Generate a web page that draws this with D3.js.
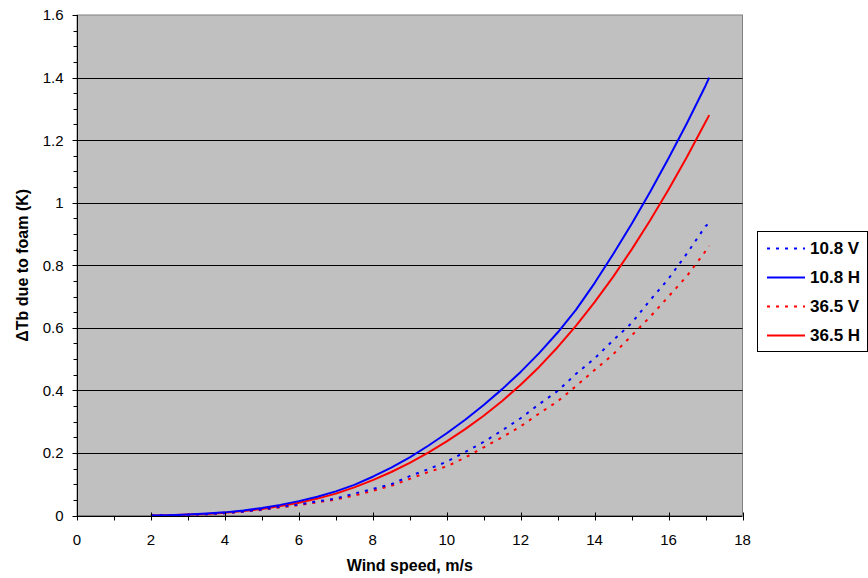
<!DOCTYPE html>
<html>
<head>
<meta charset="utf-8">
<script src="https://cdn.jsdelivr.net/npm/d3@7/dist/d3.min.js"></script>
<style>
  html, body { margin: 0; padding: 0; background: #fff; }
  svg { display: block; }
  text { font-family: Arial, "Liberation Sans", sans-serif; }
</style>
</head>
<body>
<svg id="chart" width="868" height="578"></svg>
<script>
// ---- Data ----
const windSpeed = [2, 2.5, 3, 3.5, 4, 4.5, 5, 5.5, 6, 6.5, 7, 7.5, 8, 8.5, 9, 9.5, 10, 10.5, 11, 11.5, 12, 12.5, 13, 13.5, 14, 14.5, 15, 15.5, 16, 16.5, 17, 17.1];
const tb108V = [0, 0.001, 0.002, 0.004, 0.008, 0.013, 0.019, 0.028, 0.035, 0.045, 0.054, 0.070, 0.085, 0.100, 0.126, 0.148, 0.172, 0.203, 0.235, 0.272, 0.311, 0.356, 0.398, 0.453, 0.502, 0.560, 0.615, 0.688, 0.757, 0.838, 0.925, 0.935];
const tb108H = [0, 0.001, 0.003, 0.006, 0.010, 0.016, 0.024, 0.034, 0.046, 0.060, 0.077, 0.098, 0.124, 0.153, 0.186, 0.223, 0.263, 0.306, 0.353, 0.404, 0.459, 0.519, 0.585, 0.658, 0.743, 0.835, 0.932, 1.034, 1.142, 1.255, 1.374, 1.400];
const tb365V = [0, 0.001, 0.002, 0.004, 0.007, 0.012, 0.018, 0.026, 0.033, 0.042, 0.051, 0.064, 0.079, 0.095, 0.117, 0.139, 0.157, 0.185, 0.218, 0.250, 0.285, 0.326, 0.365, 0.414, 0.465, 0.515, 0.575, 0.635, 0.700, 0.766, 0.845, 0.862];
const tb365H = [0, 0.001, 0.003, 0.005, 0.009, 0.014, 0.021, 0.030, 0.041, 0.054, 0.070, 0.090, 0.113, 0.139, 0.168, 0.201, 0.237, 0.276, 0.319, 0.366, 0.418, 0.475, 0.538, 0.607, 0.682, 0.763, 0.850, 0.943, 1.042, 1.147, 1.258, 1.280];

const seriesNames = ["10.8 V", "10.8 H", "36.5 V", "36.5 H"];
const seriesColors = ["#0000FF", "#0000FF", "#FF0000", "#FF0000"];
const seriesDashed = [true, false, true, false];
const seriesValues = [tb108V, tb108H, tb365V, tb365H];

const xTicks = [0, 2, 4, 6, 8, 10, 12, 14, 16, 18];
const yTicks = [0, 0.2, 0.4, 0.6, 0.8, 1.0, 1.2, 1.4, 1.6];
const xLabel = "Wind speed, m/s";
const yLabel = "\u0394Tb due to foam (K)";

// ---- Layout ----
const L = 77, R = 742.5, T = 15, B = 515.5;
const svg = d3.select("#chart");
const x = d3.scaleLinear().domain([0, 18]).range([L, R]);
const y = d3.scaleLinear().domain([0, 1.6]).range([B, T]);

// plot background
svg.append("rect").attr("x", L).attr("y", T).attr("width", R - L).attr("height", B - T)
  .attr("fill", "#C0C0C0").attr("stroke", "#808080").attr("stroke-width", 1);

// gridlines
svg.append("g").selectAll("line").data(yTicks.filter(v => v > 0 && v < 1.6)).join("line")
  .attr("x1", L).attr("x2", R)
  .attr("y1", d => Math.round(y(d)) + 0.5).attr("y2", d => Math.round(y(d)) + 0.5)
  .attr("stroke", "#000").attr("stroke-width", 1);

// series
const line = d3.line().x((d, i) => x(windSpeed[i])).y(d => y(d));
const order = [3, 2, 1, 0];
order.forEach(k => {
  svg.append("path").datum(seriesValues[k])
    .attr("d", line)
    .attr("fill", "none")
    .attr("stroke", seriesColors[k])
    .attr("stroke-width", 2)
    .attr("stroke-dasharray", seriesDashed[k] ? "3,6" : null)
    .attr("stroke-linejoin", "round");
});

// Axes
const xAxisG = svg.append("g").attr("transform", `translate(0,${Math.round(B) + 0.5})`);
xAxisG.append("line").attr("x1", L).attr("x2", R).attr("stroke", "#000");
xAxisG.selectAll("line.minor").data(d3.range(1, 18, 2)).join("line").attr("class", "minor")
  .attr("x1", d => Math.round(x(d)) + 0.5).attr("x2", d => Math.round(x(d)) + 0.5)
  .attr("y1", 0).attr("y2", 4).attr("stroke", "#000");
xAxisG.selectAll("line.major").data(xTicks).join("line").attr("class", "major")
  .attr("x1", d => Math.round(x(d)) + 0.5).attr("x2", d => Math.round(x(d)) + 0.5)
  .attr("y1", -4).attr("y2", 4).attr("stroke", "#000");
xAxisG.selectAll("text").data(xTicks).join("text")
  .attr("x", d => x(d)).attr("y", 28)
  .attr("text-anchor", "middle").attr("font-size", 15).attr("fill", "#000")
  .text(d => d);

const yAxisG = svg.append("g").attr("transform", `translate(${L + 0.5},0)`);
yAxisG.append("line").attr("y1", T).attr("y2", B).attr("stroke", "#000");
yAxisG.selectAll("line.minor").data(d3.range(0, 33).map(i => i * 0.05)).join("line").attr("class", "minor")
  .attr("y1", d => Math.round(y(d)) + 0.5).attr("y2", d => Math.round(y(d)) + 0.5)
  .attr("x1", d => (Math.round(d * 100) % 20 === 0) ? -5 : -4).attr("x2", 0).attr("stroke", "#000");
yAxisG.selectAll("text").data(yTicks).join("text")
  .attr("x", -14).attr("y", d => y(d)).attr("dy", "0.36em")
  .attr("text-anchor", "end").attr("font-size", 15).attr("fill", "#000")
  .text(d => d3.format("~g")(d));

// Axis titles
svg.append("text").attr("x", (L + R) / 2).attr("y", 571)
  .attr("text-anchor", "middle").attr("font-size", 16).attr("font-weight", "bold")
  .text(xLabel);
svg.append("text").attr("transform", `translate(28,${(T + B) / 2}) rotate(-90)`)
  .attr("text-anchor", "middle").attr("font-size", 16).attr("font-weight", "bold")
  .text(yLabel);

// Legend
const lg = svg.append("g");
lg.append("rect").attr("x", 757.5).attr("y", 231.5).attr("width", 110).attr("height", 120)
  .attr("fill", "#fff").attr("stroke", "#000");
const legY = [248, 277, 306, 335];
seriesNames.forEach((name, k) => {
  lg.append("line").attr("x1", 767).attr("x2", 805)
    .attr("y1", legY[k] + 0.5).attr("y2", legY[k] + 0.5)
    .attr("stroke", seriesColors[k]).attr("stroke-width", 2)
    .attr("stroke-dasharray", seriesDashed[k] ? "3,6" : null);
  lg.append("text").attr("x", 810).attr("y", legY[k]).attr("dy", "0.36em")
    .attr("font-size", 17).attr("font-weight", "bold").text(name);
});
</script>
</body>
</html>
